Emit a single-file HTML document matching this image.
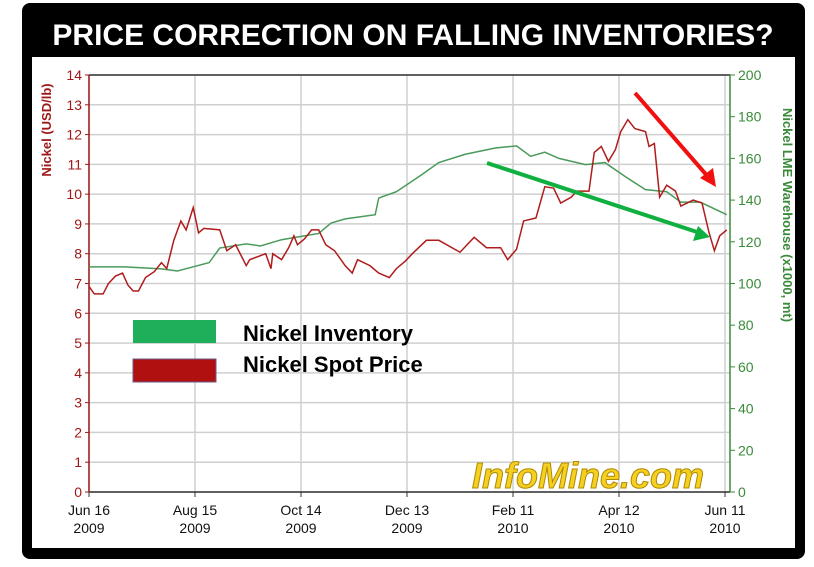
<!DOCTYPE html>
<html><head><meta charset="utf-8"><style>
body{margin:0;width:814px;height:562px;background:#fff;overflow:hidden;font-family:"Liberation Sans",sans-serif}
</style></head><body>
<svg width="814" height="562" xmlns="http://www.w3.org/2000/svg">
<rect x="22" y="3" width="783" height="556" rx="8" fill="#000"/>
<rect x="32" y="57" width="763" height="491" fill="#fff"/>
<text x="413" y="45" text-anchor="middle" fill="#fff" font-size="30" font-weight="bold">PRICE CORRECTION ON FALLING INVENTORIES?</text>
<g id="grid"></g>
<g id="axes"></g>
<text x="472" y="488" font-size="36" font-weight="bold" font-style="italic" fill="#f5d020" stroke="#b08a00" stroke-width="1">InfoMine.com</text>
<g id="series"></g>
<text transform="translate(51,130) rotate(-90)" text-anchor="middle" fill="#a01818" font-size="13" font-weight="bold">Nickel (USD/lb)</text>
<text transform="translate(783,215) rotate(90)" text-anchor="middle" fill="#3a8a3a" font-size="13" font-weight="bold">Nickel LME Warehouse (x1000, mt)</text>
<rect x="133" y="320" width="83" height="23" fill="#1fae5a"/>
<text x="243" y="341" font-size="22" font-weight="bold" fill="#000">Nickel Inventory</text>
<rect x="133" y="359" width="83" height="23" fill="#b01010" stroke="#6a5a8a" stroke-width="1"/>
<text x="243" y="372" font-size="22" font-weight="bold" fill="#000">Nickel Spot Price</text>
<line x1="635" y1="93" x2="710" y2="179" stroke="#f01010" stroke-width="4"/>
<polygon points="716,187 700,178 713,168" fill="#f01010"/>
<line x1="487" y1="163" x2="700" y2="233" stroke="#10b040" stroke-width="4"/>
<polygon points="710,237 693,241 698,226" fill="#10b040"/>
</svg>
<script>
const priceDays=[0,3,8,11,15,19,22,25,28,32,37,41,44,48,52,55,59,62,65,74,78,83,89,91,100,103,104,109,113,116,118,122,126,130,134,139,145,149,152,159,164,170,174,179,183,191,198,210,218,225,233,237,242,246,253,258,263,267,273,276,283,286,290,294,298,301,305,309,315,317,320,323,327,332,335,342,347,351,354,357,361];
const priceVals=[6.9,6.65,6.65,7.0,7.25,7.35,6.95,6.75,6.75,7.2,7.4,7.7,7.5,8.45,9.1,8.8,9.55,8.7,8.85,8.8,8.1,8.3,7.6,7.8,8.0,7.5,8.0,7.8,8.2,8.6,8.3,8.5,8.8,8.8,8.3,8.1,7.6,7.35,7.8,7.6,7.35,7.2,7.5,7.75,8.0,8.45,8.45,8.05,8.55,8.2,8.2,7.8,8.15,9.1,9.2,10.25,10.2,9.7,9.9,10.1,10.1,11.4,11.6,11.1,11.5,12.1,12.5,12.2,12.1,11.6,11.7,9.9,10.3,10.1,9.6,9.8,9.7,8.7,8.1,8.6,8.8];
const invDays=[0,20,41,50,59,68,74,89,97,109,116,130,137,145,162,164,174,188,198,213,230,242,250,258,266,281,292,304,315,327,335,346,361];
const invVals=[108,108,107,106,108,110,117,119,118,121,122,124,129,131,133,141,144,152,158,162,165,166,161,163,160,157,158,151,145,144,139,139,133];
const leftTicks=[0,1,2,3,4,5,6,7,8,9,10,11,12,13,14];
const rightTicks=[0,20,40,60,80,100,120,140,160,180,200];
const xTickDays=[0,60,120,180,240,300,360];
const xTickLabels=[["Jun 16","2009"],["Aug 15","2009"],["Oct 14","2009"],["Dec 13","2009"],["Feb 11","2010"],["Apr 12","2010"],["Jun 11","2010"]];
const X0=89,X1=730,Y0=492,Y1=75;
const xs=d=>X0+d*(725-X0)/360;
const yL=v=>Y0-v*(Y0-Y1)/14;
const yR=v=>Y0-v*(Y0-Y1)/200;
const NS="http://www.w3.org/2000/svg";
function mk(tag,attrs,parent){const e=document.createElementNS(NS,tag);for(const k in attrs)e.setAttribute(k,attrs[k]);parent.appendChild(e);return e;}
const gridG=document.getElementById('grid'),axesG=document.getElementById('axes'),seriesG=document.getElementById('series');
leftTicks.forEach(v=>{
 const l=mk('line',{x1:X0,x2:X1,y1:yL(v),y2:yL(v),stroke:'#cfcfcf','stroke-width':1.5},gridG);
 
 
 const t=mk('text',{x:X0-7,y:yL(v)+5,'text-anchor':'end','font-size':14,fill:'#a01818'},axesG);
 t.textContent=v;
 
 
 const tk=mk('line',{x1:X0-4,x2:X0,y1:yL(v),y2:yL(v),stroke:'#a01818'},axesG);
 
 
});
rightTicks.forEach(v=>{
 const t=mk('text',{x:X1+8,y:yR(v)+5,'font-size':14,fill:'#3a8a3a'},axesG);
 t.textContent=v;
 
 
 const tk=mk('line',{x1:X1,x2:X1+5,y1:yR(v),y2:yR(v),stroke:'#3a8a3a'},axesG);
 
 
});
xTickDays.forEach((d,i)=>{
 const l=mk('line',{x1:xs(d),x2:xs(d),y1:Y1,y2:Y0,stroke:'#cfcfcf','stroke-width':1.5},gridG);
 
 
 const tk=mk('line',{x1:xs(d),x2:xs(d),y1:Y0,y2:Y0+5,stroke:'#333'},axesG);
 
 
 xTickLabels[i].forEach((s,j)=>{
  const t=mk('text',{x:xs(d),y:Y0+23+j*18,'text-anchor':'middle','font-size':14,fill:'#111'},axesG);
  t.textContent=s;
  
  
 });
});
const topBorder=mk('line',{x1:X0,x2:X1,y1:Y1,y2:Y1,stroke:'#333','stroke-width':1.5},axesG);


const botAxis=mk('line',{x1:X0,x2:X1,y1:Y0,y2:Y0,stroke:'#333','stroke-width':1.5},axesG);


const leftAxis=mk('line',{x1:X0,x2:X0,y1:Y1,y2:Y0,stroke:'#a01818','stroke-width':1.5},axesG);


const rightAxis=mk('line',{x1:X1,x2:X1,y1:Y1,y2:Y0,stroke:'#3a8a3a','stroke-width':1.5},axesG);


const invLine=mk('polyline',{points:invDays.map((d,i)=>xs(d)+','+yR(invVals[i])).join(' '),fill:'none',stroke:'#4a9a5a','stroke-width':1.5},seriesG);


const priceLine=mk('polyline',{points:priceDays.map((d,i)=>xs(d)+','+yL(priceVals[i])).join(' '),fill:'none',stroke:'#b01c1c','stroke-width':1.5},seriesG);


</script>
</body></html>
